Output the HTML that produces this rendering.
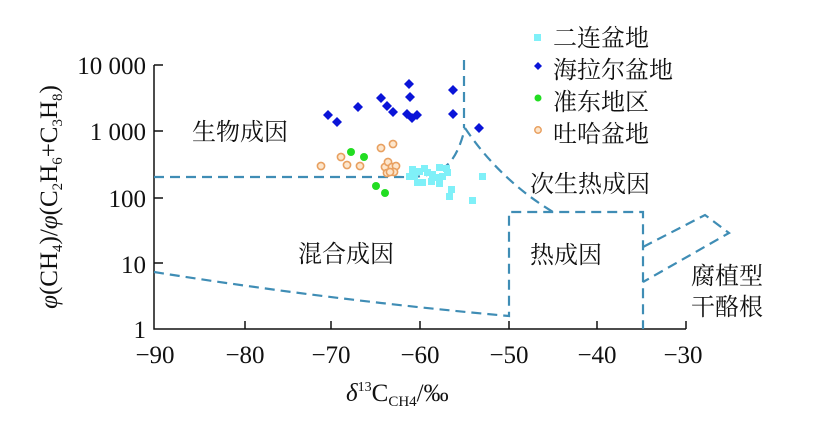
<!DOCTYPE html>
<html><head><meta charset="utf-8"><style>
html,body{margin:0;padding:0;background:#fff;}
svg{display:block;}
.t{font-family:"Liberation Serif","Noto Serif CJK SC",serif;font-size:25px;fill:#111;}
.c{font-family:"Liberation Serif","Noto Serif CJK SC","Noto Sans CJK SC",serif;font-size:24px;fill:#111;}
.d{fill:none;stroke:#3f8db5;stroke-width:2.2;stroke-dasharray:10,6;}
</style></head><body>
<svg width="816" height="430" viewBox="0 0 816 430">
<g stroke="#111" stroke-width="1.5" fill="none">
<path d="M154,65 V329 H686"/>
<path d="M154,65 h9 M154,131 h9 M154,198 h9 M154,263 h9"/>
<path d="M245,329 v-8 M331,329 v-8 M420,329 v-8 M509,329 v-8 M597,329 v-8 M686,329 v-8"/>
</g>
<g class="t" text-anchor="end">
<text x="146" y="74">10 000</text>
<text x="146" y="140">1 000</text>
<text x="146" y="207">100</text>
<text x="146" y="273">10</text>
<text x="146" y="338">1</text>
</g>
<g class="t" text-anchor="middle">
<text x="155" y="363">−90</text>
<text x="245" y="363">−80</text>
<text x="331" y="363">−70</text>
<text x="420" y="363">−60</text>
<text x="509" y="363">−50</text>
<text x="597" y="363">−40</text>
<text x="683" y="363">−30</text>
</g>
<text class="t" x="346" y="401"><tspan font-style="italic">δ</tspan><tspan font-size="14" dy="-10">13</tspan><tspan dy="10">C</tspan><tspan font-size="15" dy="5">CH</tspan><tspan font-size="15">4</tspan><tspan dy="-5">/‰</tspan></text>
<text class="t" transform="translate(57,197) rotate(-90)" text-anchor="middle"><tspan font-style="italic">φ</tspan>(CH<tspan font-size="15" dy="5">4</tspan><tspan dy="-5">)/</tspan><tspan font-style="italic">φ</tspan>(C<tspan font-size="15" dy="5">2</tspan><tspan dy="-5">H</tspan><tspan font-size="15" dy="5">6</tspan><tspan dy="-5">+C</tspan><tspan font-size="15" dy="5">3</tspan><tspan dy="-5">H</tspan><tspan font-size="15" dy="5">8</tspan><tspan dy="-5">)</tspan></text>
<path class="d" d="M154,177 H400 C440,178 455,168 465,128"/>
<path class="d" d="M464,60 V128"/>
<path class="d" d="M465,128 Q500,180 553,212"/>
<path class="d" d="M154,272 Q330,300 509,316 V212 H643 V329"/>
<path class="d" d="M643,247 L705,215 L729,233 L643,282"/>
<g class="c">
<text x="192" y="140">生物成因</text>
<text x="298" y="262">混合成因</text>
<text x="530" y="263">热成因</text>
<text x="530" y="192">次生热成因</text>
<text x="691" y="284">腐植型</text>
<text x="691" y="315">干酪根</text>
<text x="553" y="46">二连盆地</text>
<text x="553" y="78">海拉尔盆地</text>
<text x="553" y="110">准东地区</text>
<text x="553" y="142">吐哈盆地</text>
</g>
<rect x="534" y="34" width="7" height="7" fill="#7ff0f8"/>
<path d="M538,62 l4,4 l-4,4 l-4,-4z" fill="#0a14d8"/>
<circle cx="538" cy="98" r="3.5" fill="#22dd22"/>
<circle cx="538" cy="130" r="3.2" fill="#fde6cc" stroke="#e8a060" stroke-width="1.5"/>
<g fill="#7ff0f8">
<rect x="409" y="166" width="7" height="7"/><rect x="416" y="168" width="7" height="7"/><rect x="421" y="165" width="7" height="7"/><rect x="424" y="169" width="7" height="7"/><rect x="429" y="171" width="7" height="7"/><rect x="436" y="164" width="7" height="7"/><rect x="443" y="165" width="7" height="7"/><rect x="444" y="169" width="7" height="7"/><rect x="439" y="173" width="7" height="7"/><rect x="406" y="173" width="7" height="7"/><rect x="414" y="179" width="7" height="7"/><rect x="419" y="179" width="7" height="7"/><rect x="428" y="178" width="7" height="7"/><rect x="436" y="180" width="7" height="7"/><rect x="433" y="174" width="7" height="7"/><rect x="479" y="173" width="7" height="7"/><rect x="448" y="186" width="7" height="7"/><rect x="446" y="193" width="7" height="7"/><rect x="469" y="197" width="7" height="7"/><rect x="411" y="173" width="7" height="7"/>
</g>
<g fill="#fde6cc" stroke="#e8a060" stroke-width="1.6">
<circle cx="321" cy="166" r="3.6"/><circle cx="341" cy="157" r="3.6"/><circle cx="347" cy="165" r="3.6"/><circle cx="360" cy="166" r="3.6"/><circle cx="381" cy="148" r="3.6"/><circle cx="393" cy="144" r="3.6"/><circle cx="385" cy="167" r="3.6"/><circle cx="388" cy="162" r="3.6"/><circle cx="392" cy="167" r="3.6"/><circle cx="396" cy="166" r="3.6"/><circle cx="387" cy="173" r="3.6"/><circle cx="394" cy="172" r="3.6"/><circle cx="390" cy="172" r="3.6"/>
</g>
<g fill="#22dd22">
<circle cx="351" cy="152" r="4"/><circle cx="364" cy="157" r="4"/><circle cx="376" cy="186" r="4"/><circle cx="385" cy="193" r="4"/>
</g>
<g fill="#0a14d8">
<path d="M328,110 l5,5 l-5,5 l-5,-5z"/><path d="M337,117 l5,5 l-5,5 l-5,-5z"/><path d="M358,102 l5,5 l-5,5 l-5,-5z"/><path d="M381,93 l5,5 l-5,5 l-5,-5z"/><path d="M387,101 l5,5 l-5,5 l-5,-5z"/><path d="M393,107 l5,5 l-5,5 l-5,-5z"/><path d="M409,79 l5,5 l-5,5 l-5,-5z"/><path d="M410,92 l5,5 l-5,5 l-5,-5z"/><path d="M407,109 l5,5 l-5,5 l-5,-5z"/><path d="M412,113 l5,5 l-5,5 l-5,-5z"/><path d="M417,110 l5,5 l-5,5 l-5,-5z"/><path d="M453,85 l5,5 l-5,5 l-5,-5z"/><path d="M453,109 l5,5 l-5,5 l-5,-5z"/><path d="M479,123 l5,5 l-5,5 l-5,-5z"/>
</g>
</svg>
</body></html>
